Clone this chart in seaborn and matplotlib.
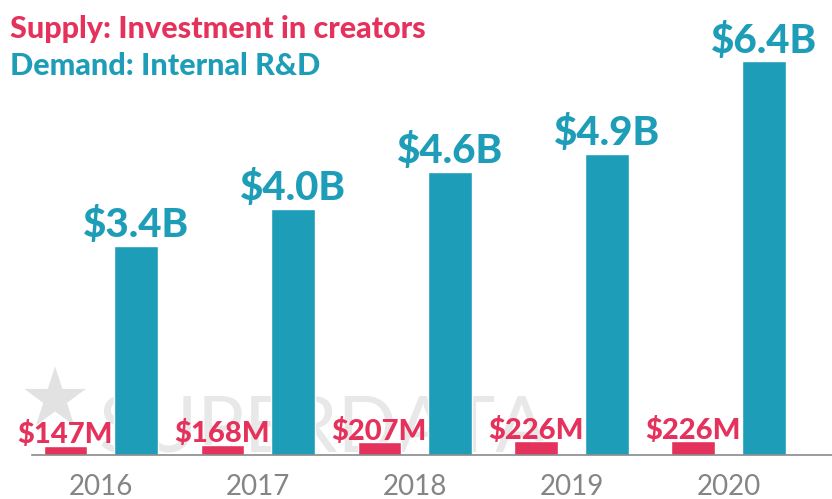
import matplotlib
matplotlib.use("Agg")
import matplotlib.pyplot as plt
import seaborn as sns
import pandas as pd

years = ["2016", "2017", "2018", "2019", "2020"]
supply = [0.147, 0.168, 0.207, 0.226, 0.226]   # $B, investment in creators
demand = [3.4, 4.0, 4.6, 4.9, 6.4]              # $B, internal R&D
supply_labels = ["$147M", "$168M", "$207M", "$226M", "$226M"]
demand_labels = ["$3.4B", "$4.0B", "$4.6B", "$4.9B", "$6.4B"]

RED = "#e5325c"
TEAL = "#1e9db8"

df = pd.DataFrame({
    "year": years * 2,
    "series": ["Supply"] * len(years) + ["Demand"] * len(years),
    "value": supply + demand,
})

sns.set_style("white")
plt.rcParams["font.family"] = ["Lato", "DejaVu Sans"]

fig = plt.figure(figsize=(8.32, 4.99), dpi=100)
ax = fig.add_axes([32 / 832, 44 / 499, 800 / 832, 455 / 499])

sns.barplot(data=df, x="year", y="value", hue="series", order=years,
            hue_order=["Supply", "Demand"], palette=[RED, TEAL], saturation=1,
            width=0.9, gap=0.38, legend=False, ax=ax, zorder=2)

ax.set_xlim(-0.438, 4.658)
ax.set_ylim(0, 455 / 61.5)

# value labels
for i in range(len(years)):
    ax.text(i - 0.225, supply[i] + 0.04, supply_labels[i], ha="center", va="baseline",
            color=RED, fontsize=21, fontweight="black", zorder=4)
    ax.text(i + 0.225, demand[i] + 0.14, demand_labels[i], ha="center", va="baseline",
            color=TEAL, fontsize=29, fontweight="black", zorder=4)

# watermark, behind the bars
ax.text(0.022, 0.115, "\u2605", color="#e2e2e2", fontsize=58, family="DejaVu Sans",
        va="bottom", transform=fig.transFigure, zorder=0.5, clip_on=False)
ax.text(0.118, 0.094, "SUPERDATA", color="#e8e8e8", fontsize=56,
        fontweight="normal", va="baseline", transform=fig.transFigure,
        zorder=0.5, clip_on=False)

for s in ["top", "right", "left"]:
    ax.spines[s].set_visible(False)
ax.spines["bottom"].set_color("#8a8a8a")
ax.spines["bottom"].set_linewidth(1.2)
ax.spines["bottom"].set_zorder(5)
ax.set_yticks([])
ax.set_xlabel("")
ax.set_ylabel("")
ax.tick_params(axis="x", length=0, pad=14, labelsize=20, labelcolor="#858585")

fig.text(0.012, 0.97, "Supply: Investment in creators", color=RED, fontsize=22,
         fontweight="black", va="top")
fig.text(0.012, 0.895, "Demand: Internal R&D", color=TEAL, fontsize=22,
         fontweight="black", va="top")

fig.savefig("out.png", dpi=100)
